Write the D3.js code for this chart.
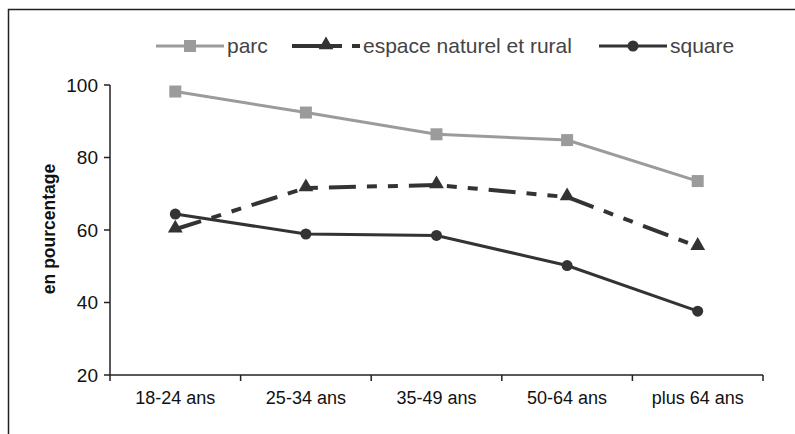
<!DOCTYPE html>
<html lang="fr">
<head>
  <meta charset="UTF-8" />
  <title>Fréquentation par âge</title>
  <script src="https://cdn.jsdelivr.net/npm/d3@7"></script>
  <style>
    body { margin: 0; background: #fff; }
    text { font-family: "Liberation Sans", Arial, sans-serif; }
    .tick-label { font-size: 19px; fill: #111; }
    .cat-label { font-size: 18px; fill: #111; }
    .leg-text { font-size: 21px; fill: #444; }
    .y-title { font-size: 17.5px; font-weight: bold; fill: #111; }
  </style>
</head>
<body>
<div id="chart"></div>
<script>
  var categories = ["18-24 ans", "25-34 ans", "35-49 ans", "50-64 ans", "plus 64 ans"];
  var parc = [98.2, 92.4, 86.4, 84.8, 73.5];
  var espace = [60.2, 71.6, 72.4, 69.1, 55.4];
  var square = [64.4, 58.9, 58.5, 50.2, 37.6];
  var yTicks = [20, 40, 60, 80, 100];

  var series = [
    { name: "parc", values: parc, color: "#9b9b9b", width: 3, dash: null, shape: "square" },
    { name: "espace naturel et rural", values: espace, color: "#333", width: 4, dash: "27,11,10,11,10,11", shape: "triangle" },
    { name: "square", values: square, color: "#333", width: 3, dash: null, shape: "circle" }
  ];

  var w = 795, h = 434;
  var svg = d3.select("#chart").append("svg")
    .attr("width", w)
    .attr("height", h);

  // outer frame
  svg.append("rect")
    .attr("x", 8.5).attr("y", 9.5)
    .attr("width", 800).attr("height", 440)
    .attr("fill", "none")
    .attr("stroke", "#222")
    .attr("stroke-width", 1.5);

  var x = d3.scaleBand().domain(categories).range([110, 763]);
  var y = d3.scaleLinear().domain([20, 100]).range([375, 85]);

  // y axis
  var yAxis = svg.append("g");
  yAxis.append("line")
    .attr("x1", 110).attr("x2", 110)
    .attr("y1", y(100)).attr("y2", y(20))
    .attr("stroke", "#222").attr("stroke-width", 1.5);
  yAxis.selectAll(".yt")
    .data(yTicks)
    .enter()
    .append("line")
    .attr("x1", 104).attr("x2", 110)
    .attr("y1", function(d) { return y(d); })
    .attr("y2", function(d) { return y(d); })
    .attr("stroke", "#222").attr("stroke-width", 1.5);
  yAxis.selectAll("text")
    .data(yTicks)
    .enter()
    .append("text")
    .attr("class", "tick-label")
    .attr("x", 98)
    .attr("y", function(d) { return y(d); })
    .attr("dy", "0.36em")
    .attr("text-anchor", "end")
    .text(function(d) { return d; });

  svg.append("text")
    .attr("class", "y-title")
    .attr("transform", "translate(55,229) rotate(-90)")
    .attr("text-anchor", "middle")
    .text("en pourcentage");

  // x axis
  var xAxis = svg.append("g");
  xAxis.append("line")
    .attr("x1", 110).attr("x2", 763)
    .attr("y1", y(20)).attr("y2", y(20))
    .attr("stroke", "#222").attr("stroke-width", 1.5);
  var edges = categories.map(function(c) { return x(c); }).concat([x.range()[1]]);
  xAxis.selectAll(".xt")
    .data(edges)
    .enter()
    .append("line")
    .attr("x1", function(d) { return d; })
    .attr("x2", function(d) { return d; })
    .attr("y1", y(20)).attr("y2", y(20) + 6)
    .attr("stroke", "#222").attr("stroke-width", 1.5);
  xAxis.selectAll("text")
    .data(categories)
    .enter()
    .append("text")
    .attr("class", "cat-label")
    .attr("x", function(d) { return x(d) + x.bandwidth() / 2; })
    .attr("y", 404)
    .attr("text-anchor", "middle")
    .text(function(d) { return d; });

  function cx(i) { return x(categories[i]) + x.bandwidth() / 2; }

  function drawMarker(g, shape, px, py, color) {
    if (shape == "square") {
      g.append("rect")
        .attr("x", px - 6).attr("y", py - 6)
        .attr("width", 12).attr("height", 12)
        .attr("fill", color);
    } else if (shape == "triangle") {
      g.append("path")
        .attr("d", d3.symbol().type(d3.symbolTriangle).size(95)())
        .attr("transform", "translate(" + px + "," + (py - 1) + ")")
        .attr("fill", color);
    } else {
      g.append("circle")
        .attr("cx", px).attr("cy", py).attr("r", 5.5)
        .attr("fill", color);
    }
  }

  var line = d3.line()
    .x(function(d, i) { return cx(i); })
    .y(function(d) { return y(d); });

  series.forEach(function(s) {
    var g = svg.append("g");
    g.append("path")
      .attr("d", line(s.values))
      .attr("fill", "none")
      .attr("stroke", s.color)
      .attr("stroke-width", s.width)
      .attr("stroke-dasharray", s.dash);
    s.values.forEach(function(v, i) {
      drawMarker(g, s.shape, cx(i), y(v), s.color);
    });
  });

  // legend
  var legX = [156, 292, 599];
  var legY = 46;
  var legend = svg.append("g");
  series.forEach(function(s, i) {
    var x0 = legX[i];
    legend.append("line")
      .attr("x1", x0).attr("x2", x0 + 68)
      .attr("y1", legY).attr("y2", legY)
      .attr("stroke", s.color)
      .attr("stroke-width", s.width)
      .attr("stroke-dasharray", s.dash ? "50,10,8" : null);
    drawMarker(legend, s.shape, x0 + 34, legY, s.color);
    legend.append("text")
      .attr("class", "leg-text")
      .attr("x", x0 + 71)
      .attr("y", legY)
      .attr("dy", "0.35em")
      .text(s.name);
  });
</script>
</body>
</html>
